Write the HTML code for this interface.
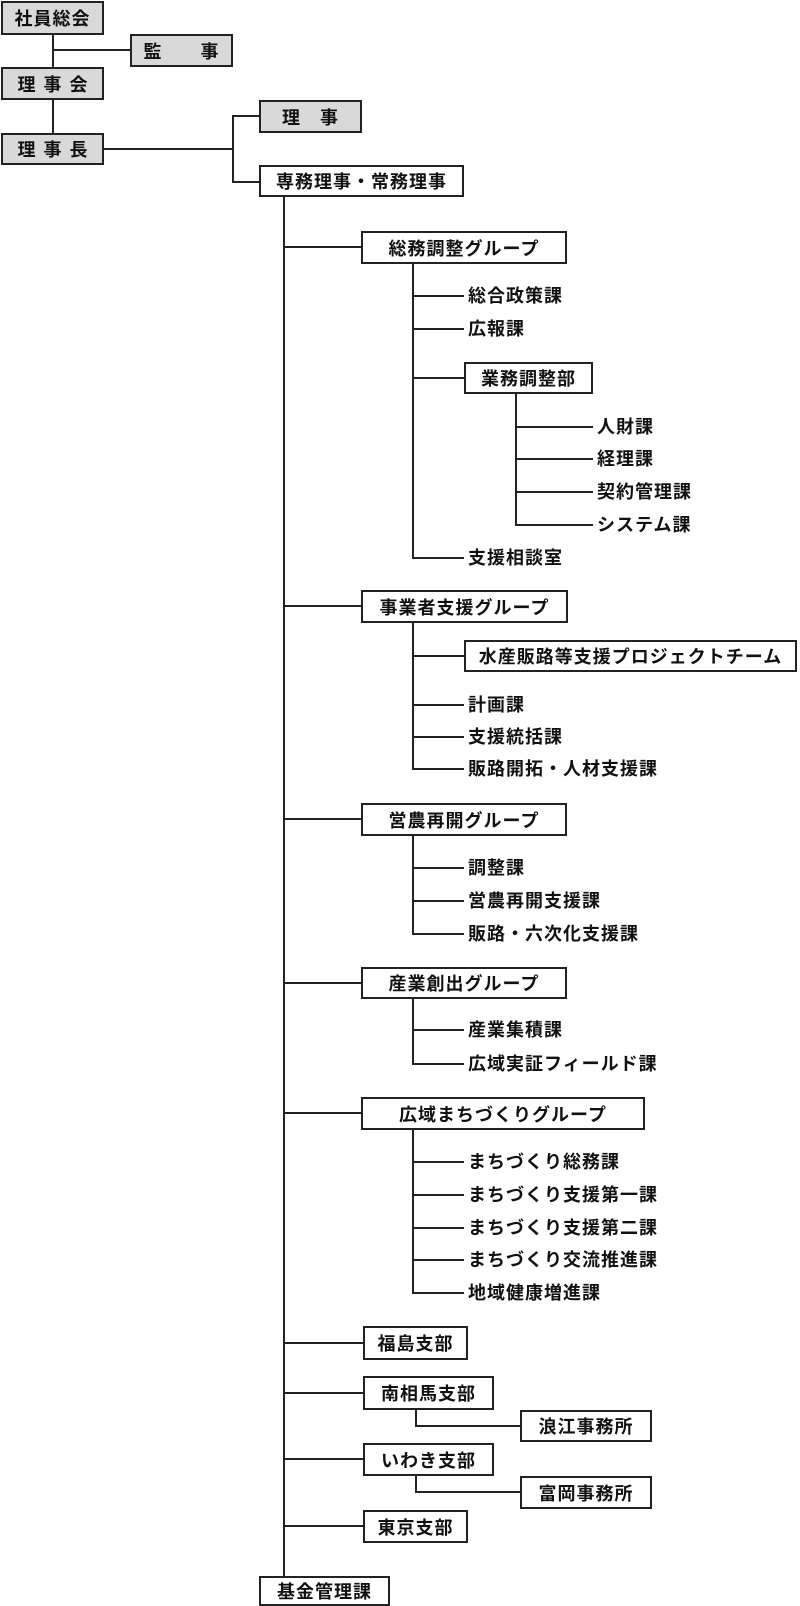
<!DOCTYPE html>
<html><head><meta charset="utf-8"><style>
body{margin:0;width:800px;height:1606px;background:#fff;position:relative;overflow:hidden;font-family:"Liberation Sans","Noto Sans CJK JP",sans-serif;font-weight:bold;color:#111}
.b{position:absolute;box-sizing:border-box;border:2px solid #222;background:#fff;display:flex;align-items:center;justify-content:center;font-size:18px;letter-spacing:1px;white-space:nowrap}
.g{background:#d9d9d9}
.h{position:absolute;height:2px;background:#222}
.v{position:absolute;width:2px;background:#222}
.t{position:absolute;font-size:18px;letter-spacing:1px;white-space:nowrap;line-height:20px;transform:translateY(-50%)}
</style></head><body>
<div class="b g" style="left:1px;top:1px;width:103px;height:34px">社員総会</div>
<div class="b g" style="left:130px;top:34px;width:103px;height:33px">監　　事</div>
<div class="b g" style="left:1px;top:67px;width:103px;height:33px;letter-spacing:8px;padding-left:8px">理事会</div>
<div class="b g" style="left:1px;top:133px;width:103px;height:32px;letter-spacing:8px;padding-left:8px">理事長</div>
<div class="b g" style="left:259px;top:100px;width:103px;height:33px">理　事</div>
<div class="b" style="left:259px;top:165px;width:205px;height:32px">専務理事・常務理事</div>
<div class="b" style="left:361px;top:231px;width:206px;height:33px">総務調整グループ</div>
<div class="b" style="left:464px;top:362px;width:129px;height:32px">業務調整部</div>
<div class="b" style="left:361px;top:590px;width:207px;height:33px">事業者支援グループ</div>
<div class="b" style="left:464px;top:640px;width:333px;height:32px">水産販路等支援プロジェクトチーム</div>
<div class="b" style="left:361px;top:803px;width:206px;height:33px">営農再開グループ</div>
<div class="b" style="left:361px;top:967px;width:206px;height:32px">産業創出グループ</div>
<div class="b" style="left:361px;top:1097px;width:284px;height:33px">広域まちづくりグループ</div>
<div class="b" style="left:363px;top:1326px;width:105px;height:34px">福島支部</div>
<div class="b" style="left:363px;top:1376px;width:131px;height:34px">南相馬支部</div>
<div class="b" style="left:520px;top:1410px;width:132px;height:32px">浪江事務所</div>
<div class="b" style="left:363px;top:1443px;width:131px;height:33px">いわき支部</div>
<div class="b" style="left:520px;top:1476px;width:132px;height:33px">富岡事務所</div>
<div class="b" style="left:363px;top:1510px;width:105px;height:33px">東京支部</div>
<div class="b" style="left:259px;top:1576px;width:131px;height:30px">基金管理課</div>

<div class="v" style="left:52px;top:35px;height:32px"></div>
<div class="v" style="left:52px;top:100px;height:33px"></div>
<div class="h" style="left:52px;top:49px;width:78px"></div>
<div class="h" style="left:104px;top:148px;width:129px"></div>
<div class="v" style="left:232px;top:115px;height:68px"></div>
<div class="h" style="left:232px;top:115px;width:27px"></div>
<div class="h" style="left:232px;top:181px;width:27px"></div>

<div class="v" style="left:283px;top:197px;height:1379px"></div>
<div class="h" style="left:283px;top:246px;width:78px"></div>
<div class="h" style="left:283px;top:605px;width:78px"></div>
<div class="h" style="left:283px;top:818px;width:78px"></div>
<div class="h" style="left:283px;top:982px;width:78px"></div>
<div class="h" style="left:283px;top:1112px;width:78px"></div>
<div class="h" style="left:283px;top:1342px;width:80px"></div>
<div class="h" style="left:283px;top:1392px;width:80px"></div>
<div class="h" style="left:283px;top:1458px;width:80px"></div>
<div class="h" style="left:283px;top:1525px;width:80px"></div>

<div class="v" style="left:412px;top:264px;height:295px"></div>
<div class="h" style="left:412px;top:295px;width:52px"></div>
<div class="h" style="left:412px;top:328px;width:52px"></div>
<div class="h" style="left:412px;top:377px;width:52px"></div>
<div class="h" style="left:412px;top:557px;width:52px"></div>
<div class="v" style="left:515px;top:394px;height:132px"></div>
<div class="h" style="left:515px;top:426px;width:78px"></div>
<div class="h" style="left:515px;top:458px;width:78px"></div>
<div class="h" style="left:515px;top:491px;width:78px"></div>
<div class="h" style="left:515px;top:524px;width:78px"></div>

<div class="v" style="left:412px;top:623px;height:147px"></div>
<div class="h" style="left:412px;top:655px;width:52px"></div>
<div class="h" style="left:412px;top:704px;width:52px"></div>
<div class="h" style="left:412px;top:736px;width:52px"></div>
<div class="h" style="left:412px;top:768px;width:52px"></div>

<div class="v" style="left:412px;top:836px;height:99px"></div>
<div class="h" style="left:412px;top:867px;width:52px"></div>
<div class="h" style="left:412px;top:900px;width:52px"></div>
<div class="h" style="left:412px;top:933px;width:52px"></div>

<div class="v" style="left:412px;top:999px;height:66px"></div>
<div class="h" style="left:412px;top:1029px;width:52px"></div>
<div class="h" style="left:412px;top:1063px;width:52px"></div>

<div class="v" style="left:412px;top:1130px;height:164px"></div>
<div class="h" style="left:412px;top:1161px;width:52px"></div>
<div class="h" style="left:412px;top:1194px;width:52px"></div>
<div class="h" style="left:412px;top:1227px;width:52px"></div>
<div class="h" style="left:412px;top:1259px;width:52px"></div>
<div class="h" style="left:412px;top:1292px;width:52px"></div>

<div class="v" style="left:415px;top:1410px;height:17px"></div>
<div class="h" style="left:415px;top:1425px;width:105px"></div>
<div class="v" style="left:415px;top:1476px;height:17px"></div>
<div class="h" style="left:415px;top:1491px;width:105px"></div>

<div class="t" style="left:468px;top:296px">総合政策課</div>
<div class="t" style="left:468px;top:329px">広報課</div>
<div class="t" style="left:597px;top:427px">人財課</div>
<div class="t" style="left:597px;top:459px">経理課</div>
<div class="t" style="left:597px;top:492px">契約管理課</div>
<div class="t" style="left:597px;top:525px">システム課</div>
<div class="t" style="left:468px;top:558px">支援相談室</div>
<div class="t" style="left:468px;top:705px">計画課</div>
<div class="t" style="left:468px;top:737px">支援統括課</div>
<div class="t" style="left:468px;top:769px">販路開拓・人材支援課</div>
<div class="t" style="left:468px;top:868px">調整課</div>
<div class="t" style="left:468px;top:901px">営農再開支援課</div>
<div class="t" style="left:468px;top:934px">販路・六次化支援課</div>
<div class="t" style="left:468px;top:1030px">産業集積課</div>
<div class="t" style="left:468px;top:1064px">広域実証フィールド課</div>
<div class="t" style="left:468px;top:1162px">まちづくり総務課</div>
<div class="t" style="left:468px;top:1195px">まちづくり支援第一課</div>
<div class="t" style="left:468px;top:1228px">まちづくり支援第二課</div>
<div class="t" style="left:468px;top:1260px">まちづくり交流推進課</div>
<div class="t" style="left:468px;top:1293px">地域健康増進課</div>
</body></html>
